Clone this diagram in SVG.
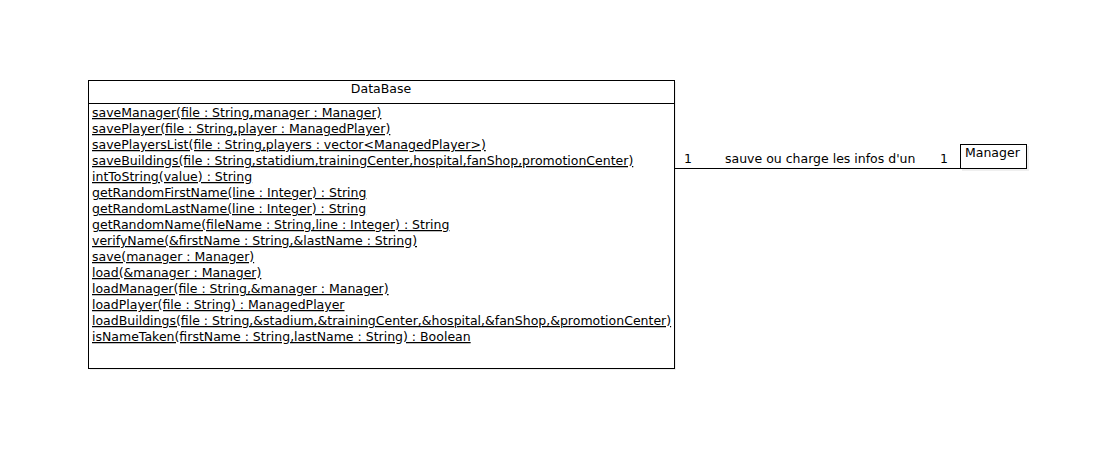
<svg xmlns="http://www.w3.org/2000/svg" width="1114" height="464" viewBox="0 0 1114 464">
<style>
text{font-family:"DejaVu Sans",sans-serif;font-size:12.5px;fill:#000}
.m{text-decoration:underline}
.box{fill:#fff;stroke:#000;stroke-width:1}
.sh{fill:#efefef}
</style>
<rect width="1114" height="464" fill="#fff"/>
<g id="DataBase">
<rect class="sh" x="90" y="82" width="586" height="288"/>
<rect class="box" x="88.5" y="80.5" width="586" height="288"/>
<line x1="88.5" y1="103.5" x2="674.5" y2="103.5" stroke="#000"/>
<text x="381" y="93" text-anchor="middle">DataBase</text>
<text class="m" x="92" y="117">saveManager(file : String,manager : Manager)</text>
<text class="m" x="92" y="133">savePlayer(file : String,player : ManagedPlayer)</text>
<text class="m" x="92" y="149">savePlayersList(file : String,players : vector&lt;ManagedPlayer&gt;)</text>
<text class="m" x="92" y="165">saveBuildings(file : String,statidium,trainingCenter,hospital,fanShop,promotionCenter)</text>
<text class="m" x="92" y="181">intToString(value) : String</text>
<text class="m" x="92" y="197">getRandomFirstName(line : Integer) : String</text>
<text class="m" x="92" y="213">getRandomLastName(line : Integer) : String</text>
<text class="m" x="92" y="229">getRandomName(fileName : String,line : Integer) : String</text>
<text class="m" x="92" y="245">verifyName(&amp;firstName : String,&amp;lastName : String)</text>
<text class="m" x="92" y="261">save(manager : Manager)</text>
<text class="m" x="92" y="277">load(&amp;manager : Manager)</text>
<text class="m" x="92" y="293">loadManager(file : String,&amp;manager : Manager)</text>
<text class="m" x="92" y="309">loadPlayer(file : String) : ManagedPlayer</text>
<text class="m" x="92" y="325">loadBuildings(file : String,&amp;stadium,&amp;trainingCenter,&amp;hospital,&amp;fanShop,&amp;promotionCenter)</text>
<text class="m" x="92" y="341">isNameTaken(firstName : String,lastName : String) : Boolean</text>
</g>
<g id="Manager">
<rect class="sh" x="962" y="146" width="67" height="25"/>
<rect class="box" x="960.5" y="144.5" width="66" height="24"/>
<text x="965" y="157">Manager</text>
</g>
<g id="connectors">
<line x1="674.5" y1="168.5" x2="960.5" y2="168.5" stroke="#000"/>
<text x="684" y="163">1</text>
<text x="725" y="163">sauve ou charge les infos d'un</text>
<text x="940" y="163">1</text>
</g>
</svg>
